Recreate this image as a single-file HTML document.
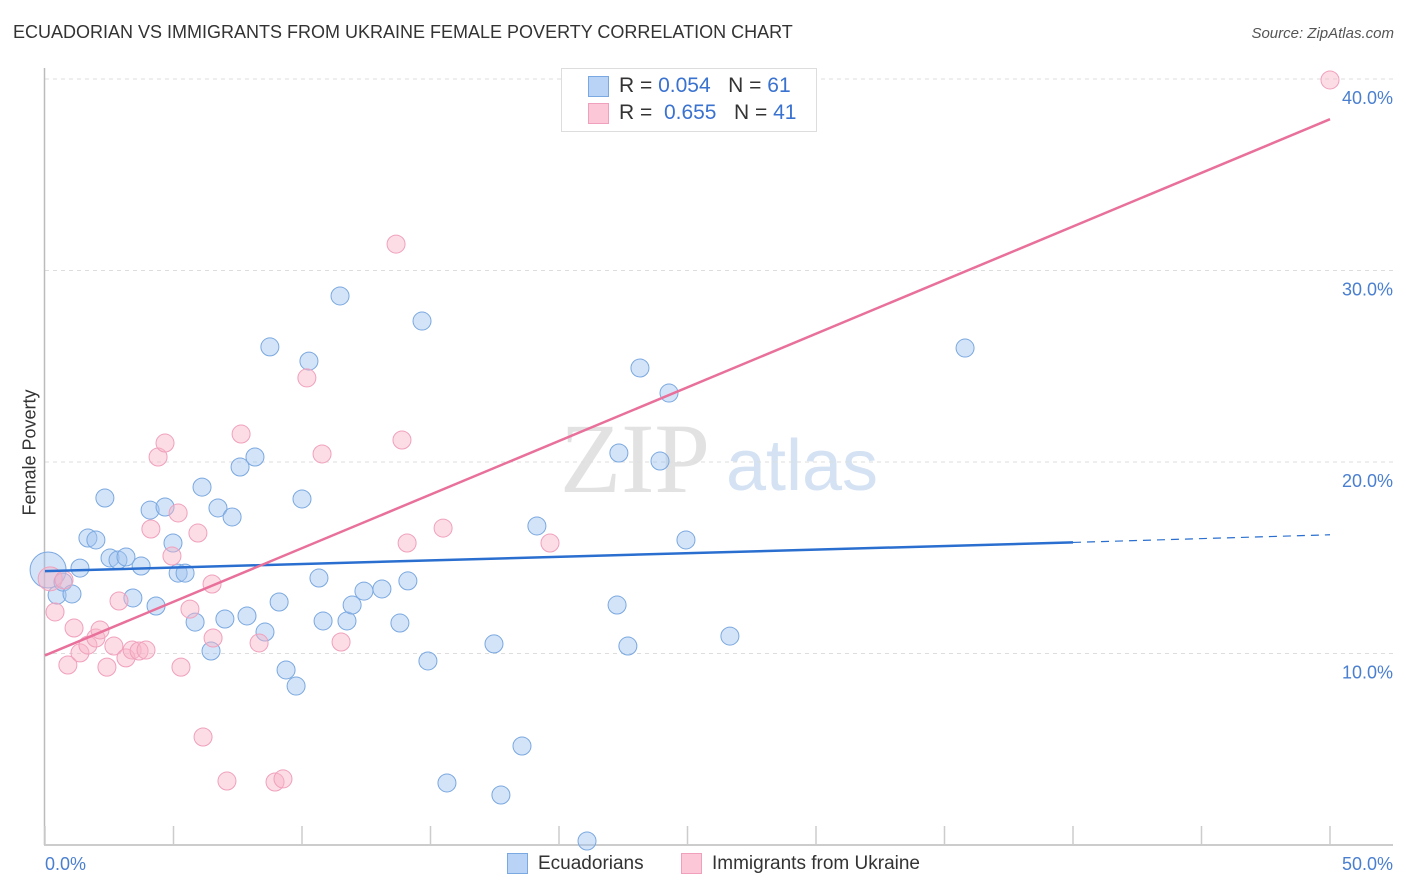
<!DOCTYPE html>
<html><head><meta charset="utf-8">
<style>
body{margin:0;background:#fff;font-family:"Liberation Sans",sans-serif;}
#wrap{position:relative;width:1406px;height:892px;overflow:hidden;}
.t{position:absolute;white-space:nowrap;}
</style></head>
<body>
<div id="wrap">
<div class="t" style="left:13px;top:22px;font-size:18px;color:#333;">ECUADORIAN VS IMMIGRANTS FROM UKRAINE FEMALE POVERTY CORRELATION CHART</div>
<div class="t" style="right:12px;top:25px;font-size:15px;color:#555;font-style:italic;">Source: ZipAtlas.com</div>
<div class="t" style="left:-30px;top:445px;font-size:18px;color:#333;transform:rotate(-90deg);width:120px;text-align:center;">Female Poverty</div>
<svg id="plot" width="1406" height="892" style="position:absolute;left:0;top:0;">
<text x="635" y="492" font-size="100" font-family="Liberation Serif,serif" fill="#e2e2e2" text-anchor="middle">ZIP</text>
<text x="802" y="490" font-size="72" font-family="Liberation Sans,sans-serif" fill="#d4e2f4" text-anchor="middle">atlas</text>
</svg>
<div style="position:absolute;left:561px;top:68px;width:254px;height:62px;border:1px solid #ddd;background:#fff;"></div>
<div style="position:absolute;left:588px;top:76px;width:19px;height:19px;background:#b8d3f5;border:1px solid #7aa8e0;"></div>
<div class="t" style="left:619px;top:74px;font-size:21px;color:#333;">R = <span style="color:#3a72d0">0.054</span>&nbsp;&nbsp;&nbsp;N = <span style="color:#3a72d0">61</span></div>
<div style="position:absolute;left:588px;top:103px;width:19px;height:19px;background:#fcc8d8;border:1px solid #f0a0bc;"></div>
<div class="t" style="left:619px;top:101px;font-size:21px;color:#333;">R = &nbsp;<span style="color:#3a72d0">0.655</span>&nbsp;&nbsp;&nbsp;N = <span style="color:#3a72d0">41</span></div>
<div style="position:absolute;left:507px;top:853px;width:19px;height:19px;background:#b8d3f5;border:1px solid #7aa8e0;"></div>
<div class="t" style="left:538px;top:853px;font-size:19px;color:#333;">Ecuadorians</div>
<div style="position:absolute;left:681px;top:853px;width:19px;height:19px;background:#fcc8d8;border:1px solid #f0a0bc;"></div>
<div class="t" style="left:712px;top:853px;font-size:19px;color:#333;">Immigrants from Ukraine</div>
</div>
<script>
const xTicks=[0,5,10,15,20,25,30,35,40,45,50];
const yTicks=[10,20,30,40];
const yTickLabels=["10.0%","20.0%","30.0%","40.0%"];
const blueX=[0.12,0.47,0.70,1.05,1.36,1.67,1.98,2.33,2.53,2.84,3.15,3.42,3.74,4.09,4.32,4.67,4.98,5.18,5.45,5.84,6.11,6.46,6.73,7.00,7.28,7.59,7.86,8.17,8.56,8.75,9.11,9.38,9.77,10.00,10.27,10.66,10.82,11.48,11.75,11.95,12.41,13.11,13.81,14.12,14.67,14.90,15.64,17.47,17.74,18.56,19.14,21.09,22.26,22.33,22.68,23.15,23.93,24.28,24.94,26.65,35.80];
const blueY=[14.36,13.05,13.73,13.11,14.46,16.03,15.93,18.12,14.99,14.88,15.04,12.90,14.57,17.49,12.48,17.65,15.77,14.20,14.20,11.64,18.69,10.13,17.60,11.80,17.13,19.74,11.96,20.26,11.12,26.01,12.69,9.14,8.30,18.07,25.27,13.94,11.70,28.67,11.70,12.53,13.26,13.37,11.59,13.79,27.36,9.61,3.24,10.50,2.61,5.17,16.66,0.21,12.53,20.47,10.39,24.91,20.05,23.60,15.93,10.91,25.95];
const pinkX=[0.2,0.39,0.74,0.89,1.13,1.36,1.67,1.98,2.14,2.41,2.68,2.88,3.15,3.39,3.66,3.93,4.12,4.40,4.67,4.94,5.18,5.29,5.64,5.95,6.15,6.50,6.54,7.08,7.63,8.33,8.95,9.26,10.19,10.78,11.52,13.66,13.89,14.09,15.49,19.65,50.0];
const pinkY=[13.9,12.17,13.84,9.40,11.33,10.03,10.44,10.81,11.23,9.29,10.39,12.74,9.77,10.18,10.13,10.18,16.50,20.26,20.99,15.09,17.34,9.29,12.32,16.29,5.64,13.63,10.81,3.34,21.46,10.55,3.29,3.45,24.39,20.42,10.60,31.38,21.15,15.77,16.55,15.77,39.95];
const blueTrend=[14.3,15.8,16.2];
const pinkTrend=[9.9,37.9];
const X=v=>45+v*25.7, Y=v=>845-v*19.15;
const svg=document.getElementById('plot');
const NS='http://www.w3.org/2000/svg';
function mk(tag,attrs){const e=document.createElementNS(NS,tag);for(const k in attrs)e.setAttribute(k,attrs[k]);svg.appendChild(e);return e;}
yTicks.forEach((t,i)=>{
 const g=mk('line',{x1:45,x2:1393,y1:Y(t),y2:Y(t),stroke:'#ddd','stroke-dasharray':'4,4'});
 
 
 const tx=mk('text',{x:1393,y:Y(t)+25,'text-anchor':'end','font-size':18,fill:'#4a7fd0','font-family':'Liberation Sans,sans-serif'});
 tx.textContent=yTickLabels[i];
 
 
});
const ya=mk('line',{x1:44.5,x2:44.5,y1:68,y2:845,stroke:'#bbb','stroke-width':1.5});


const xa=mk('line',{x1:44,x2:1393,y1:845,y2:845,stroke:'#bbb','stroke-width':1.5});


xTicks.forEach(t=>{const l=mk('line',{x1:X(t),x2:X(t),y1:826,y2:845,stroke:'#ccc','stroke-width':1.5});
 
 });
[['0.0%',45,'start'],['50.0%',1393,'end']].forEach(a=>{const t=mk('text',{x:a[1],y:870,'text-anchor':a[2],'font-size':18,fill:'#4a7fd0','font-family':'Liberation Sans,sans-serif'});t.textContent=a[0];
 
 });
blueX.forEach((v,i)=>{const c=mk('circle',{cx:X(v),cy:Y(blueY[i]),r:i==0?18:9,fill:'rgba(160,196,240,0.45)',stroke:'#7aa8e0','stroke-width':1});
 
 });
pinkX.forEach((v,i)=>{const c=mk('circle',{cx:X(v),cy:Y(pinkY[i]),r:i==0?12:9,fill:'rgba(248,180,200,0.45)',stroke:'#f0a0bc','stroke-width':1});
 
 });
const bl=mk('line',{x1:X(0),y1:Y(blueTrend[0]),x2:X(40),y2:Y(blueTrend[1]),stroke:'#2a6fd0','stroke-width':2.5});


const bd=mk('line',{x1:X(40),y1:Y(blueTrend[1]),x2:X(50),y2:Y(blueTrend[2]),stroke:'#2a6fd0','stroke-width':1.2,'stroke-dasharray':'8,6'});


const pl=mk('line',{x1:X(0),y1:Y(pinkTrend[0]),x2:X(50),y2:Y(pinkTrend[1]),stroke:'#e8709a','stroke-width':2.5});


</script>
</body></html>
